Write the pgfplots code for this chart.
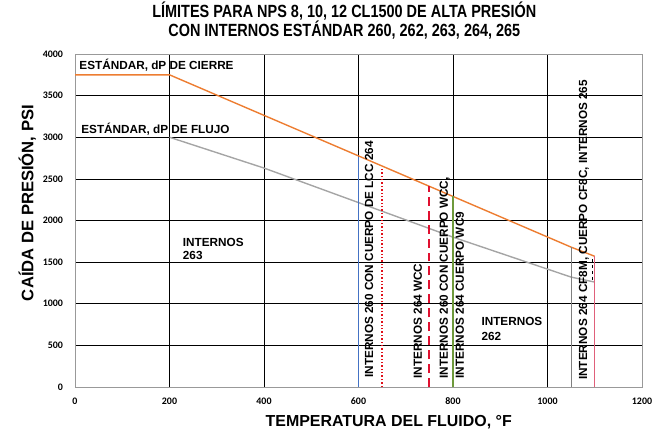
\documentclass[border=0pt]{standalone}
\usepackage{fontspec}
\setmainfont{Liberation Sans}
\newfontfamily\tickfont{Carlito}
\newfontfamily\titlefont[FakeStretch=0.82]{Liberation Sans}
\usepackage{pgfplots}
\pgfplotsset{compat=1.18}
\definecolor{cOrange}{HTML}{ED7D31}
\definecolor{cGrey}{HTML}{A5A5A5}
\definecolor{cBlue}{HTML}{4472C4}
\definecolor{cRedDot}{HTML}{E0101A}
\definecolor{cCrimson}{HTML}{E01030}
\definecolor{cGreen}{HTML}{6E9A3C}
\definecolor{cGreyV}{HTML}{7F7F7F}
\definecolor{cPink}{HTML}{E0607A}
\begin{document}
\begin{tikzpicture}
\begin{axis}[
  width=567bp, height=333bp, scale only axis,
  xmin=0,xmax=1200,ymin=0,ymax=4000,
  xtick={0,200,...,1200}, ytick={0,500,...,4000},
  grid=major, major grid style={black, line width=0.7pt},
  axis line style={gray!80, line width=1pt},
  tick style={draw=none},
  ticklabel style={font=\tickfont\bfseries\fontsize{10}{11}\selectfont},
  /pgf/number format/assume math mode=true,
  /pgf/number format/1000 sep={},
  xticklabel style={yshift=-7pt},
  yticklabel style={xshift=-8.5pt},
  clip=false,
]
% Orange: standard shutoff dP
\addplot[cOrange, line width=1.4pt] coordinates {(0,3750) (200,3750) (1050,1680) (1100,1570)};
% Grey: standard flow dP
\addplot[cGrey, line width=1.4pt] coordinates {(200,3000) (400,2630) (800,1800) (1050,1320) (1100,1260)};
% Vertical limits
\addplot[cBlue, line width=1.4pt] coordinates {(600,0) (600,2760)};
\addplot[cRedDot, line width=1.4pt, dotted] coordinates {(650,0) (650,2640)};
\addplot[draw=cCrimson, line width=1.8pt, dash pattern=on 9pt off 5pt] coordinates {(750,0) (750,2410)};
\addplot[cGreen, line width=1.6pt] coordinates {(800,0) (800,2290)};
\addplot[cGreyV, line width=1.1pt] coordinates {(1050,0) (1050,1680)};
\addplot[cPink, line width=1.4pt] coordinates {(1100,0) (1100,1570)};
\addplot[black, line width=0.8pt, dashed] coordinates {(1095,1540) (1095,1260)};
% texts
\node[anchor=base west, inner sep=0pt, font=\bfseries\fontsize{11.8}{13}\selectfont] at (axis cs:9,3815) {ESTÁNDAR, dP DE CIERRE};
\node[anchor=base west, inner sep=0pt, font=\bfseries\fontsize{11.8}{13}\selectfont] at (axis cs:13,3047) {ESTÁNDAR, dP DE FLUJO};
\node[anchor=base west, inner sep=0pt, align=left, font=\bfseries\fontsize{11.8}{13.3}\selectfont] at (axis cs:228,1534) {INTERNOS\\263};
\node[anchor=base west, inner sep=0pt, align=left, font=\bfseries\fontsize{11.8}{15}\selectfont] at (axis cs:860,564) {INTERNOS\\262};
\node[rotate=90, anchor=base west, inner sep=0pt, font=\bfseries\fontsize{11.8}{13}\selectfont] at (axis cs:631,110) {INTERNOS 260 CON CUERPO DE LCC 264};
\node[rotate=90, anchor=base west, inner sep=0pt, font=\bfseries\fontsize{11.8}{13}\selectfont] at (axis cs:734,100) {INTERNOS 264 WCC};
\node[rotate=90, anchor=base west, inner sep=0pt, align=left, font=\bfseries\fontsize{11.8}{16}\selectfont] at (axis cs:823,100) {INTERNOS 260 CON CUERPO WCC,\\INTERNOS 264 CUERPO WC9};
\node[rotate=90, anchor=base west, inner sep=0pt, font=\bfseries\fontsize{11.8}{13}\selectfont] at (axis cs:1084,84) {INTERNOS 264 CF8M, CUERPO CF8C, INTERNOS 265};
% axis labels and title
\node[rotate=90, anchor=base, inner sep=0pt, font=\bfseries\fontsize{16.7}{19}\selectfont] at (axis cs:-88,2210) {CAÍDA DE PRESIÓN, PSI};
\node[anchor=base, inner sep=0pt, font=\bfseries\fontsize{16}{19}\selectfont] at (axis cs:664,-480) {TEMPERATURA DEL FLUIDO, °F};
\node[anchor=base, inner sep=0pt, align=center, font=\titlefont\bfseries\fontsize{17.7}{19}\selectfont] at (axis cs:570,4216) {LÍMITES PARA NPS 8, 10, 12 CL1500 DE ALTA PRESIÓN\\CON INTERNOS ESTÁNDAR 260, 262, 263, 264, 265};
\end{axis}
\pgfresetboundingbox
\path ([shift={(-75bp,-45bp)}]current axis.south west) rectangle ([shift={(21bp,54bp)}]current axis.north east);
\end{tikzpicture}
\end{document}
